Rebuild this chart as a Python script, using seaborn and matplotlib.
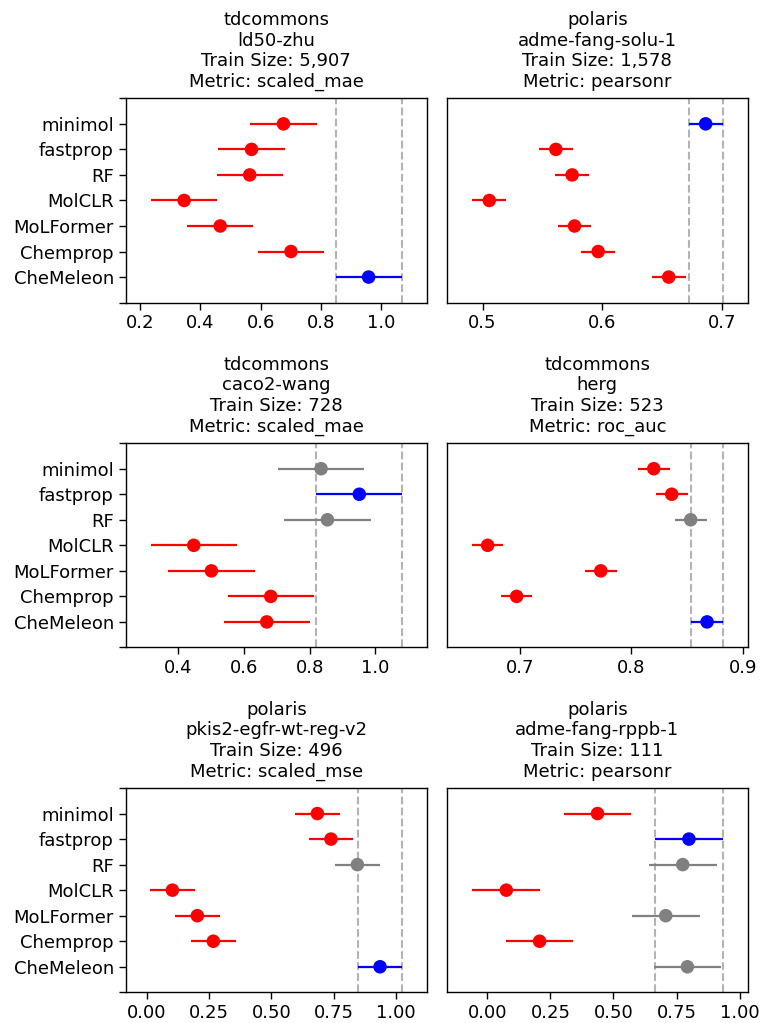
import numpy as np
import pandas as pd
import matplotlib
matplotlib.use("Agg")
import matplotlib.pyplot as plt
import seaborn as sns

sns.set_style("ticks")
plt.rcParams["font.family"] = ["DejaVu Sans"]
plt.rcParams["text.color"] = "black"
plt.rcParams["axes.labelcolor"] = "black"
plt.rcParams["xtick.color"] = "black"
plt.rcParams["ytick.color"] = "black"
plt.rcParams["axes.edgecolor"] = "black"

models = ["minimol", "fastprop", "RF", "MolCLR", "MoLFormer", "Chemprop", "CheMeleon"]

sources = ["tdcommons", "polaris", "tdcommons", "tdcommons", "polaris", "polaris"]
datasets = ["ld50-zhu", "adme-fang-solu-1", "caco2-wang", "herg",
            "pkis2-egfr-wt-reg-v2", "adme-fang-rppb-1"]
train_sizes = [5907, 1578, 728, 523, 496, 111]
metrics = ["scaled_mae", "pearsonr", "scaled_mae", "roc_auc", "scaled_mse", "pearsonr"]

# mean score per model (order of `models`)
means_ld50 = [0.676, 0.570, 0.564, 0.346, 0.466, 0.701, 0.959]
means_solu = [0.6866, 0.5613, 0.5749, 0.5056, 0.5769, 0.5967, 0.6557]
means_caco2 = [0.8345, 0.9508, 0.8538, 0.4467, 0.5005, 0.6812, 0.6690]
means_herg = [0.8200, 0.8361, 0.8531, 0.6710, 0.7725, 0.6970, 0.8678]
means_pkis2 = [0.6845, 0.7390, 0.8450, 0.1030, 0.2030, 0.2670, 0.9360]
means_rppb = [0.4367, 0.7990, 0.7744, 0.0752, 0.7071, 0.2071, 0.7929]

# confidence-interval half-width per dataset
half_widths = [0.110, 0.0142, 0.1315, 0.0142, 0.0895, 0.134]

# significance group per model: best / worse / tie
status_ld50 = ["worse", "worse", "worse", "worse", "worse", "worse", "best"]
status_solu = ["best", "worse", "worse", "worse", "worse", "worse", "worse"]
status_caco2 = ["tie", "best", "tie", "worse", "worse", "worse", "worse"]
status_herg = ["worse", "worse", "tie", "worse", "worse", "worse", "best"]
status_pkis2 = ["worse", "worse", "tie", "worse", "worse", "worse", "best"]
status_rppb = ["worse", "best", "tie", "worse", "tie", "worse", "tie"]

all_means = [means_ld50, means_solu, means_caco2, means_herg, means_pkis2, means_rppb]
all_status = [status_ld50, status_solu, status_caco2, status_herg, status_pkis2, status_rppb]

palette = {"best": "blue", "worse": "red", "tie": "gray"}

x_limits = [(0.152, 1.153), (0.470, 0.722), (0.2396, 1.157),
            (0.6343, 0.9045), (-0.0842, 1.1243), (-0.161, 1.033)]
x_ticks = [[0.2, 0.4, 0.6, 0.8, 1.0], [0.5, 0.6, 0.7], [0.4, 0.6, 0.8, 1.0],
           [0.7, 0.8, 0.9], [0.0, 0.25, 0.5, 0.75, 1.0], [0.0, 0.25, 0.5, 0.75, 1.0]]
x_ticklabels = [["0.2", "0.4", "0.6", "0.8", "1.0"], ["0.5", "0.6", "0.7"],
                ["0.4", "0.6", "0.8", "1.0"], ["0.7", "0.8", "0.9"],
                ["0.00", "0.25", "0.50", "0.75", "1.00"],
                ["0.00", "0.25", "0.50", "0.75", "1.00"]]

FS = 13

fig, axes = plt.subplots(3, 2, figsize=(7.62, 10.23), dpi=100)
fig.subplots_adjust(left=0.165, right=0.9816, top=0.9039, bottom=0.030,
                    wspace=0.0654, hspace=0.688)

for k, ax in enumerate(axes.flat):
    h = half_widths[k]
    df = pd.DataFrame({
        "model": models,
        "pos": np.arange(len(models)),
        "mean": all_means[k],
        "status": all_status[k],
    })
    df["lo"] = df["mean"] - h
    df["hi"] = df["mean"] + h

    best = df[df["status"] == "best"].iloc[0]
    ax.axvline(best["lo"], color="#b3b3b3", linestyle="--", linewidth=1.5, zorder=1)
    ax.axvline(best["hi"], color="#b3b3b3", linestyle="--", linewidth=1.5, zorder=1)

    for _, r in df.iterrows():
        ax.plot([r["lo"], r["hi"]], [r["pos"], r["pos"]],
                color=palette[r["status"]], linewidth=1.6, zorder=2,
                solid_capstyle="butt")
    sns.scatterplot(data=df, x="mean", y="pos", hue="status", palette=palette,
                    s=95, edgecolor="none", legend=False, ax=ax, zorder=3)

    ax.set_ylim(7, -1)
    ax.set_xlim(*x_limits[k])
    ax.set_xticks(x_ticks[k])
    ax.set_xticklabels(x_ticklabels[k], fontsize=FS)
    ax.set_xlabel("")
    ax.set_ylabel("")
    if k % 2 == 0:
        ax.set_yticks(np.arange(-1, 8))
        ax.set_yticklabels([""] + models + [""], fontsize=FS)
    else:
        ax.set_yticks([])
    ax.tick_params(axis="both", length=5, width=1.0, color="black", labelcolor="black")
    for sp in ax.spines.values():
        sp.set_linewidth(1.0)
        sp.set_color("black")
    ax.set_title(f"{sources[k]}\n{datasets[k]}\nTrain Size: {train_sizes[k]:,}\nMetric: {metrics[k]}",
                 fontsize=FS, pad=8, color="black")

fig.savefig("out.png", dpi=100)
